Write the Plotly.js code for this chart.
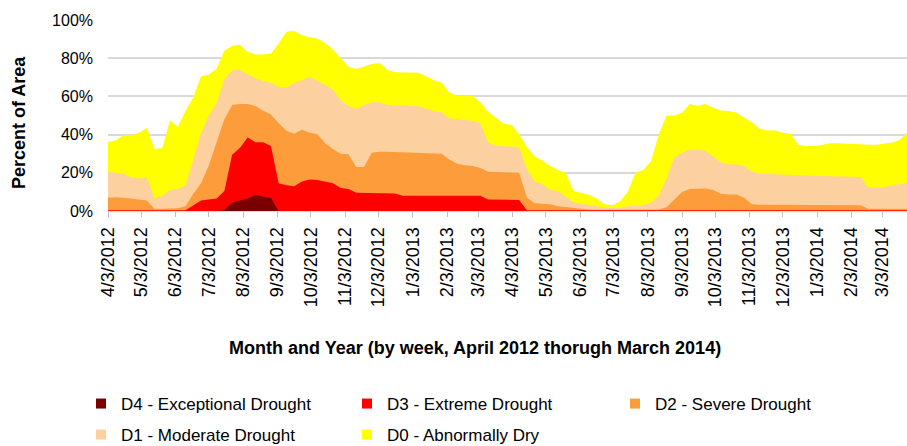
<!DOCTYPE html>
<html>
<head>
<meta charset="utf-8">
<script src="https://cdn.plot.ly/plotly-3.0.1.min.js"></script>
<style>
html,body{margin:0;padding:0;background:#ffffff;}
#chart{width:907px;height:446px;}
</style>
</head>
<body>
<div id="chart"></div>
<script>
// Weekly U.S. Drought Monitor readings (cumulative percent of area), starting Tuesday 4/3/2012
const firstWeek = '2012-04-03';
const oneWeekMs = 604800000;

// D0-D4 (abnormally dry or worse)
const d0Cum = [36, 37, 39.7, 39.5, 41, 43.5, 32.5, 33, 47.5, 44,
  52.5, 59.5, 70.5, 71.5, 74.5, 84, 86.5, 87, 83.3, 82,
  82, 82.5, 87.7, 93.8, 94.3, 92, 91, 90.3, 88, 84.5,
  80, 75.5, 74.3, 75.5, 77, 77.5, 74, 72.6, 72.6, 72.5,
  72.4, 70.5, 68.5, 67.3, 62, 60.4, 60.4, 60.2, 57, 52,
  49, 45.5, 45.2, 40.2, 33.5, 28.5, 26.5, 23.5, 21.5, 20,
  10.5, 9.5, 8.5, 6.5, 3.5, 3, 5, 10, 20, 21.5,
  26, 40, 50, 50, 51.5, 56, 55, 56, 54, 52.6,
  52.4, 51.5, 49, 46.5, 43, 42.2, 42.2, 41, 40.5, 34.5,
  34, 34, 34.5, 35.5, 35.5, 35.3, 35.3, 35, 34.8, 34.5,
  35.3, 35.7, 37, 41];
// D1-D4 (moderate drought or worse)
const d1Cum = [20.5, 20, 19.5, 17.5, 17, 17.5, 6.5, 8, 11, 11.5,
  13.5, 27, 41, 50, 56.5, 69, 73.5, 74, 71.5, 69.5,
  68, 67, 65, 64.5, 67, 68.5, 70.2, 68, 66, 63.5,
  58, 55, 53.5, 55.5, 57, 57, 55.5, 55.3, 55.2, 55.2,
  55, 53.5, 52.2, 51.7, 48.5, 48, 47.7, 47.2, 46, 36,
  34, 34, 33.8, 33.2, 22, 15.5, 14.2, 11, 10.5, 7.5,
  4.5, 3.8, 3.2, 2.5, 1.8, 1.6, 1.6, 2.5, 2.8, 3,
  4.5, 8, 17, 28, 30.5, 32, 32, 31.5, 28.5, 25.5,
  24.5, 24.3, 23.5, 20.5, 19.5, 19.3, 19, 18.8, 18.7, 18.6,
  18.5, 18.4, 18.3, 18.2, 18.1, 18, 18, 17.8, 12.3, 12.3,
  12.5, 13.5, 14, 14.5];
// D2-D4 (severe drought or worse)
const d2Cum = [7, 7.2, 7, 6.5, 6.2, 5.5, 1, 1.2, 1.5, 1.5,
  2.5, 9, 14.5, 24, 36, 48, 55.5, 56, 56, 55,
  52.5, 50.5, 46, 42, 40.5, 42.5, 41, 40.2, 35.5, 32.5,
  30, 29.7, 23, 23, 30.5, 31, 31, 30.8, 30.7, 30.6,
  30.5, 30.3, 30.2, 30, 27, 24.8, 24, 23.5, 22.5, 20.5,
  20.4, 20.4, 20.2, 20, 7, 4, 3.8, 3.5, 2.5, 2,
  1.5, 1, 0.8, 0.7, 0.7, 0.7, 0.7, 0.7, 0.7, 0.7,
  0.7, 0.8, 2, 6, 10, 11.5, 11.8, 11.8, 11, 9,
  8.6, 8.6, 7, 3.5, 3.3, 3.3, 3.3, 3.3, 3.2, 3.2,
  3.2, 3.2, 3.1, 3.1, 3.1, 3, 3, 3, 1.2, 1.2,
  1.2, 1.2, 1.2, 1.2];
// D3-D4 (extreme drought or worse)
const d3Cum = [0.4, 0.4, 0.4, 0.4, 0.4, 0.4, 0.4, 0.4, 0.4, 0.4,
  0.4, 3, 5.5, 6, 6.5, 10.5, 29.5, 33, 38.5, 36,
  36, 34, 14.5, 13.5, 13, 15.5, 16.5, 16.2, 15.5, 14.5,
  12, 11.5, 9.5, 9.4, 9.4, 9.4, 9.4, 9.2, 8, 8,
  8, 8, 8, 8, 8, 8, 8, 8, 8, 6,
  5.9, 5.9, 5.9, 5.8, 0.4, 0.4, 0.4, 0.4, 0.4, 0.4,
  0.4, 0.4, 0.4, 0.4, 0.4, 0.4, 0.4, 0.4, 0.4, 0.4,
  0.4, 0.4, 0.4, 0.4, 0.4, 0.4, 0.4, 0.4, 0.4, 0.4,
  0.4, 0.4, 0.4, 0.4, 0.4, 0.4, 0.4, 0.4, 0.4, 0.4,
  0.4, 0.4, 0.4, 0.4, 0.4, 0.4, 0.4, 0.4, 0.4, 0.4,
  0.4, 0.4, 0.4, 0.4];
// D4 (exceptional drought)
const d4Cum = [0, 0, 0, 0, 0, 0, 0, 0, 0, 0,
  0, 0, 0, 0, 0, 0.5, 4.5, 5.5, 6.5, 8.5,
  7.5, 7, 0, 0, 0, 0, 0, 0, 0, 0,
  0, 0, 0, 0, 0, 0, 0, 0, 0, 0,
  0, 0, 0, 0, 0, 0, 0, 0, 0, 0,
  0, 0, 0, 0, 0, 0, 0, 0, 0, 0,
  0, 0, 0, 0, 0, 0, 0, 0, 0, 0,
  0, 0, 0, 0, 0, 0, 0, 0, 0, 0,
  0, 0, 0, 0, 0, 0, 0, 0, 0, 0,
  0, 0, 0, 0, 0, 0, 0, 0, 0, 0,
  0, 0, 0, 0];

const tickDates = ['2012-04-03', '2012-05-03', '2012-06-03', '2012-07-03', '2012-08-03', '2012-09-03',
  '2012-10-03', '2012-11-03', '2012-12-03', '2013-01-03', '2013-02-03', '2013-03-03',
  '2013-04-03', '2013-05-03', '2013-06-03', '2013-07-03', '2013-08-03', '2013-09-03',
  '2013-10-03', '2013-11-03', '2013-12-03', '2014-01-03', '2014-02-03', '2014-03-03'];
const tickLabels = ['4/3/2012', '5/3/2012', '6/3/2012', '7/3/2012', '8/3/2012', '9/3/2012',
  '10/3/2012', '11/3/2012', '12/3/2012', '1/3/2013', '2/3/2013', '3/3/2013',
  '4/3/2013', '5/3/2013', '6/3/2013', '7/3/2013', '8/3/2013', '9/3/2013',
  '10/3/2013', '11/3/2013', '12/3/2013', '1/3/2014', '2/3/2014', '3/3/2014'];
const yTickVals = [0, 20, 40, 60, 80, 100];
const yTickText = ['0%', '20%', '40%', '60%', '80%', '100%'];

const seriesNames = ['D0 - Abnormally Dry', 'D1 - Moderate Drought', 'D2 - Severe Drought',
  'D3 - Extreme Drought', 'D4 - Exceptional Drought'];
const seriesValues = [d0Cum, d1Cum, d2Cum, d3Cum, d4Cum];
const seriesColors = ['#ffff00', '#fdd09f', '#fd9c3a', '#ff0000', '#7a0000'];
// legend slot for each series (D0..D4)
const legendIds = ['legend5', 'legend4', 'legend3', 'legend2', 'legend'];

const FONT = 'Liberation Sans, Arial, sans-serif';

const traces = [];
seriesValues.forEach(function (vals, i) {
  traces.push({
    type: 'scatter', mode: 'lines',
    x0: firstWeek, dx: oneWeekMs, y: vals,
    fill: 'tozeroy', fillcolor: seriesColors[i],
    line: {width: 0, color: seriesColors[i]},
    showlegend: false, hoverinfo: 'skip', name: seriesNames[i]
  });
});
// legend swatches
seriesNames.forEach(function (nm, i) {
  traces.push({
    type: 'scatter', mode: 'markers', x: [null], y: [null],
    name: nm, legend: legendIds[i], showlegend: true,
    marker: {symbol: 'square', size: 10, color: seriesColors[i]}
  });
});

function leg(xpx, ypx) {
  return {
    xref: 'container', yref: 'container',
    x: xpx / 907, y: 1 - ypx / 446, xanchor: 'left', yanchor: 'middle',
    bgcolor: 'rgba(0,0,0,0)', borderwidth: 0,
    font: {family: FONT, size: 17, color: '#000000'}
  };
}

const layout = {
  width: 907, height: 446,
  paper_bgcolor: '#ffffff', plot_bgcolor: '#ffffff',
  margin: {l: 108, r: 0, t: 20, b: 235, autoexpand: false},
  font: {family: FONT, color: '#000000'},
  xaxis: {
    type: 'date',
    range: ['2012-04-03', '2014-03-25'],
    tickmode: 'array', tickvals: tickDates, ticktext: tickLabels,
    tickangle: -90, tickfont: {family: FONT, size: 18, color: '#000000'},
    ticks: 'outside', ticklen: 5, tickwidth: 1, tickcolor: '#bfbfbf',
    ticklabelstandoff: 3,
    showgrid: false, showline: true, linecolor: '#d9d9d9', linewidth: 1,
    zeroline: false, fixedrange: true, automargin: false
  },
  yaxis: {
    range: [0, 100],
    tickmode: 'array', tickvals: yTickVals, ticktext: yTickText,
    tickfont: {family: FONT, size: 16, color: '#000000'},
    showgrid: true, gridcolor: '#d9d9d9', gridwidth: 2,
    zeroline: false, showline: false, ticks: '',
    ticklabelstandoff: 14, automargin: false,
    fixedrange: true
  },
  annotations: [{
    text: 'Month and Year (by week, April 2012 thorugh March 2014)',
    xref: 'paper', yref: 'paper', x: (475 - 108) / 799, y: (211 - 348) / 191,
    xanchor: 'center', yanchor: 'middle', showarrow: false,
    font: {family: FONT, size: 18, color: '#000000', weight: 'bold'}
  }, {
    text: 'Percent of Area', textangle: -90,
    xref: 'paper', yref: 'paper', x: (19 - 108) / 799, y: (211 - 123) / 191,
    xanchor: 'center', yanchor: 'middle', showarrow: false,
    font: {family: FONT, size: 18, color: '#000000', weight: 'bold'}
  }],
  legend: leg(81, 404),
  legend2: leg(347, 404),
  legend3: leg(615, 404),
  legend4: leg(81, 435),
  legend5: leg(347, 435),
  hovermode: false,
  showlegend: true
};

Plotly.newPlot('chart', traces, layout, {displayModeBar: false, staticPlot: true});
</script>
</body>
</html>
